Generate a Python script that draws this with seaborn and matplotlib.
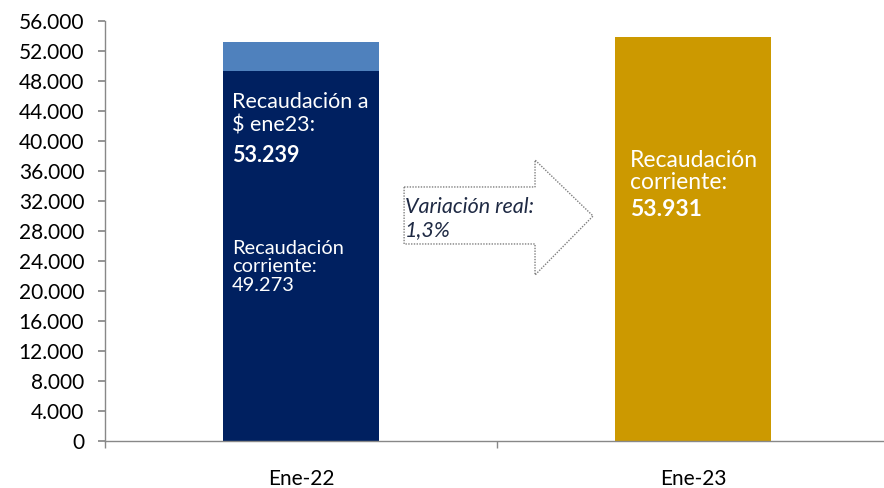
import matplotlib
matplotlib.use("Agg")
import matplotlib.pyplot as plt
from matplotlib.patches import Polygon
from matplotlib.ticker import FuncFormatter
import seaborn as sns

# Data (millones de pesos)
categorias = ["Ene-22", "Ene-23"]
recaudacion_real = [53239, 53931]      # Ene-22 a $ ene23, Ene-23 corriente
recaudacion_corriente = [49273, 0]     # Ene-22 corriente
variacion_real = "1,3%"

NAVY = "#002060"
LIGHT = "#4F81BD"
GOLD = "#CC9900"

sns.set_theme(style="white")
plt.rcParams["font.family"] = ["Lato", "DejaVu Sans"]

fig = plt.figure(figsize=(8.84, 4.88), dpi=100)
ax = fig.add_axes([105 / 884, 47 / 488, 784 / 884, 420 / 488])

# top segment (real value) then current value on top of it
sns.barplot(x=categorias, y=recaudacion_real, hue=categorias,
            palette=[LIGHT, GOLD], width=0.4, legend=False, ax=ax,
            saturation=1, linewidth=0)
sns.barplot(x=categorias, y=recaudacion_corriente, color=NAVY,
            width=0.4, ax=ax, saturation=1, linewidth=0)

ax.set_xlim(-0.5, 1.5)
ax.set_ylim(0, 56000)
ax.set_yticks(range(0, 56001, 4000))
ax.yaxis.set_major_formatter(FuncFormatter(lambda v, p: f"{int(v):,}".replace(",", ".")))
ax.set_xticks([0, 1])
ax.set_xticklabels(categorias)
ax.set_xticks([-0.5, 0.5, 1.5], minor=True)
ax.tick_params(axis="x", which="major", length=0, pad=20, labelsize=15, colors="black")
ax.tick_params(axis="x", which="minor", length=5, color="#888888", direction="out", bottom=True)
ax.tick_params(axis="y", length=5, color="#888888", direction="out", left=True,
               labelsize=15, pad=10, colors="black")
ax.set_xlabel("")
ax.set_ylabel("")
for s in ["top", "right"]:
    ax.spines[s].set_visible(False)
for s in ["left", "bottom"]:
    ax.spines[s].set_color("#888888")
    ax.spines[s].set_linewidth(1)

fmt = lambda v: f"{v:,}".replace(",", ".")

# labels inside Ene-22 bar
ax.text(-0.176, 46500, "Recaudación a\n$ ene23:", color="white", fontsize=15.5,
        va="top", ha="left", linespacing=1.2)
ax.text(-0.176, 39400, fmt(recaudacion_real[0]), color="white", fontsize=15.5,
        fontweight="bold", va="top", ha="left")
ax.text(-0.176, 26800, "Recaudación\ncorriente:\n" + fmt(recaudacion_corriente[0]),
        color="white", fontsize=14.4, va="top", ha="left", linespacing=1.1)

# label inside Ene-23 bar
ax.text(0.839, 38800, "Recaudación\ncorriente:", color="white", fontsize=16.5,
        va="top", ha="left", linespacing=1.05)
ax.text(0.839, 32200, fmt(recaudacion_real[1]), color="white", fontsize=16.5,
        fontweight="bold", va="top", ha="left")

# arrow
arrow = Polygon([(0.263, 33870), (0.597, 33870), (0.597, 37470), (0.745, 30000),
                 (0.597, 22130), (0.597, 26270), (0.263, 26270)],
                closed=True, facecolor="white", edgecolor="#7f7f7f",
                linestyle=(0, (1, 1)), linewidth=1, zorder=3)
ax.add_patch(arrow)
ax.text(0.266, 29700, "Variación real:\n" + variacion_real, fontsize=15.5,
        style="italic", color="#1F2A44", va="center", ha="left",
        linespacing=1.2, zorder=4)

fig.savefig("out.png", dpi=100)
